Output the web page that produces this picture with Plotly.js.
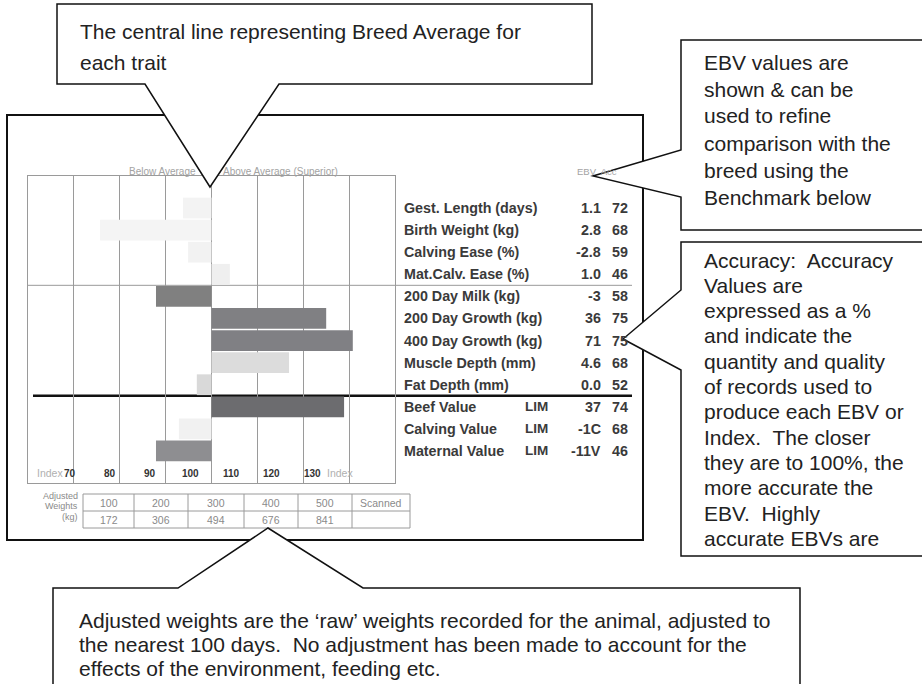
<!DOCTYPE html>
<html><head><meta charset="utf-8">
<script src="https://cdn.plot.ly/plotly-3.0.1.min.js"></script>
<style>html,body{margin:0;padding:0;background:#fff;}#chart{width:922px;height:684px;}</style>
</head><body><div id="chart"></div>
<script>
// ---- data ----
const traits = ['Gest. Length (days)','Birth Weight (kg)','Calving Ease (%)','Mat.Calv. Ease (%)','200 Day Milk (kg)','200 Day Growth (kg)','400 Day Growth (kg)','Muscle Depth (mm)','Fat Depth (mm)','Beef Value','Calving Value','Maternal Value'];
const indexValues = [93.8, 75.7, 94.9, 104.0, 87.9, 125.0, 130.8, 116.9, 96.8, 128.9, 92.9, 87.9];
const breedAverage = 100;
const ebvValues = ['1.1','2.8','-2.8','1.0','-3','36','71','4.6','0.0','37','-1C','-11V'];
const accuracyValues = ['72','68','59','46','58','75','75','68','52','74','68','46'];
const indexBreed = ['','','','','','','','','','LIM','LIM','LIM'];
const barColors = ['#f3f3f3','#f4f4f4','#f2f2f2','#efefef','#808080','#808083','#808084','#dcdcdc','#d9d9d9','#6c6c6f','#f1f1f1','#8e8e91'];
const tickVals = [70, 80, 90, 100, 110, 120, 130];
const tickLabels = ['70','80','90','100','110','120','130'];
const weightDays = ['100','200','300','400','500','Scanned'];
const weightKg = ['172','306','494','676','841',''];

const topNote = ['The central line representing Breed Average for','each trait'];
const ebvNote = ['EBV values are','shown &amp; can be','used to refine','comparison with the','breed using the','Benchmark below'];
const accNote = ['Accuracy:\u00a0 Accuracy','Values are','expressed as a %','and indicate the','quantity and quality','of records used to','produce each EBV or','Index.\u00a0 The closer','they are to 100%, the','more accurate the','EBV.\u00a0 Highly','accurate EBVs are'];
const weightNote = ['Adjusted weights are the \u2018raw\u2019 weights recorded for the animal, adjusted to','the nearest 100 days.\u00a0 No adjustment has been made to account for the','effects of the environment, feeding etc.'];

// ---- geometry helpers (pixel -> paper) ----
const L = 28, R = 395, T = 176, B = 483;
const px = X => (X - L) / (R - L);
const py = Y => (B - Y) / (B - T);
const FAM = 'Liberation Sans, Arial, sans-serif';

const annotations = [];
function ann(text, X, Y, o) {
  o = o || {};
  annotations.push({
    text: text, xref: o.xref || 'paper', yref: o.yref || 'paper',
    x: o.xv !== undefined ? o.xv : px(X), y: o.yv !== undefined ? o.yv : py(Y),
    xanchor: o.xa || 'left', yanchor: 'middle', showarrow: false,
    font: {family: FAM, size: o.size || 12, color: o.color || '#222'}
  });
}

// trait rows
traits.forEach((t, i) => {
  ann('<b>' + t + '</b>', 402, 0, {yref: 'y', yv: t, size: 14.3, color: '#3a3a3a'});
  ann('<b>' + ebvValues[i] + '</b>', 603, 0, {yref: 'y', yv: t, size: 14.3, color: '#3a3a3a', xa: 'right'});
  ann('<b>' + accuracyValues[i] + '</b>', 630, 0, {yref: 'y', yv: t, size: 14.3, color: '#3a3a3a', xa: 'right'});
  if (indexBreed[i]) ann('<b>' + indexBreed[i] + '</b>', 536, 0, {yref: 'y', yv: t, size: 13.5, color: '#3a3a3a', xa: 'center'});
});

// headers
ann('Below Average', 198, 171, {size: 10, color: '#a3a3a3', xa: 'right'});
ann('Above Average (Superior)', 221, 171, {size: 10, color: '#a3a3a3'});
ann('EBV\u00a0 Acc', 575, 171, {size: 9.5, color: '#a3a3a3'});

// index scale labels
ann('Index', 65, 473, {size: 10.5, color: '#b0b0b0', xa: 'right'});
tickVals.forEach((v, i) => ann('<b>' + tickLabels[i] + '</b>', 0, 473, {xref: 'x2', xv: v, size: 10, color: '#333', xa: 'center'}));
ann('Index', 325, 473, {size: 10.5, color: '#b0b0b0'});

// adjusted weights table
ann('Adjusted', 80, 496, {size: 9, color: '#8a8a8a', xa: 'right'});
ann('Weights', 80, 506, {size: 9, color: '#8a8a8a', xa: 'right'});
ann('(kg)', 80, 517, {size: 9, color: '#8a8a8a', xa: 'right'});
const colEdges = [83, 134, 188, 244, 298, 352, 410];
weightDays.forEach((d, i) => {
  const cx = (colEdges[i] + colEdges[i + 1]) / 2;
  ann(d, cx, 502.5, {size: 10.5, color: '#8a8a8a', xa: 'center'});
  if (weightKg[i]) ann(weightKg[i], cx, 519.5, {size: 10.5, color: '#8a8a8a', xa: 'center'});
});

// callout texts
topNote.forEach((s, i) => ann(s, 78, 31 + i * 31, {size: 21}));
ebvNote.forEach((s, i) => ann(s, 702, 62 + i * 27, {size: 21}));
accNote.forEach((s, i) => ann(s, 702, 260 + i * 25.3, {size: 21}));
weightNote.forEach((s, i) => ann(s, 77, 620 + i * 24, {size: 21}));

// ---- shapes ----
const shapes = [];
function pathOf(pts) {
  return 'M' + pts.map(p => px(p[0]).toFixed(5) + ',' + py(p[1]).toFixed(5)).join('L') + 'Z';
}
shapes.push({type: 'line', layer: 'below', xref: 'paper', yref: 'y', x0: px(28), x1: px(632), y0: 3.5, y1: 3.5, line: {color: '#9a9a9a', width: 1}});
shapes.push({type: 'line', layer: 'below', xref: 'paper', yref: 'y', x0: px(33), x1: px(632), y0: 8.5, y1: 8.5, line: {color: '#111', width: 2.5}});
shapes.push({type: 'rect', layer: 'above', xref: 'paper', yref: 'paper', x0: px(7), x1: px(643), y0: py(115), y1: py(540), line: {color: '#111', width: 2}});
shapes.push({type: 'rect', layer: 'above', xref: 'paper', yref: 'paper', x0: px(83), x1: px(410), y0: py(494), y1: py(528), line: {color: '#9a9a9a', width: 1}});
shapes.push({type: 'line', layer: 'above', xref: 'paper', yref: 'paper', x0: px(83), x1: px(410), y0: py(511), y1: py(511), line: {color: '#9a9a9a', width: 1}});
colEdges.slice(1, -1).forEach(e => shapes.push({type: 'line', layer: 'above', xref: 'paper', yref: 'paper', x0: px(e), x1: px(e), y0: py(494), y1: py(528), line: {color: '#9a9a9a', width: 1}}));
const co = {type: 'path', layer: 'above', xref: 'paper', yref: 'paper', fillcolor: '#fff', line: {color: '#111', width: 1.5}};
shapes.push(Object.assign({}, co, {path: pathOf([[57,4],[592,4],[592,84],[279,84],[210,187],[145,84],[57,84]])}));
shapes.push(Object.assign({}, co, {path: pathOf([[681,40],[935,40],[935,230],[681,230],[681,197],[593,176],[681,150]])}));
shapes.push(Object.assign({}, co, {path: pathOf([[681,242],[935,242],[935,556],[681,556],[681,370],[623,339],[681,290]])}));
shapes.push(Object.assign({}, co, {path: pathOf([[53,588],[178,588],[268,528],[363,588],[800,588],[800,700],[53,700]])}));

// ---- traces ----
const traces = [
  {type: 'bar', orientation: 'h', y: traits, x: indexValues.map(v => v - breedAverage), base: breedAverage,
   width: 0.94, marker: {color: barColors, line: {width: 0}}, hoverinfo: 'skip'},
  {type: 'scatter', mode: 'none', x: tickVals, y: tickVals.map(() => traits[11]), xaxis: 'x2', hoverinfo: 'skip'}
];

const layout = {
  width: 922, height: 684,
  margin: {l: L, r: 922 - R, t: T, b: 684 - B, pad: 0},
  paper_bgcolor: '#fff', plot_bgcolor: 'rgba(0,0,0,0)', showlegend: false,
  xaxis: {range: [60, 140], tick0: 60, dtick: 10, showgrid: true, gridcolor: '#9a9a9a', gridwidth: 1,
          showticklabels: false, ticks: '', zeroline: false, showline: true, mirror: true,
          linecolor: '#9a9a9a', linewidth: 1, fixedrange: true},
  xaxis2: {range: [59.73, 150.53], overlaying: 'x', anchor: 'y', showgrid: false, showticklabels: false,
           ticks: '', showline: false, zeroline: false, fixedrange: true},
  yaxis: {type: 'category', categoryorder: 'array', categoryarray: traits, range: [12.449, -1.449],
          showgrid: false, showticklabels: false, ticks: '', zeroline: false, showline: true, mirror: true,
          linecolor: '#9a9a9a', linewidth: 1, fixedrange: true},
  shapes: shapes, annotations: annotations
};

Plotly.newPlot('chart', traces, layout, {displayModeBar: false, staticPlot: true});
</script></body></html>
